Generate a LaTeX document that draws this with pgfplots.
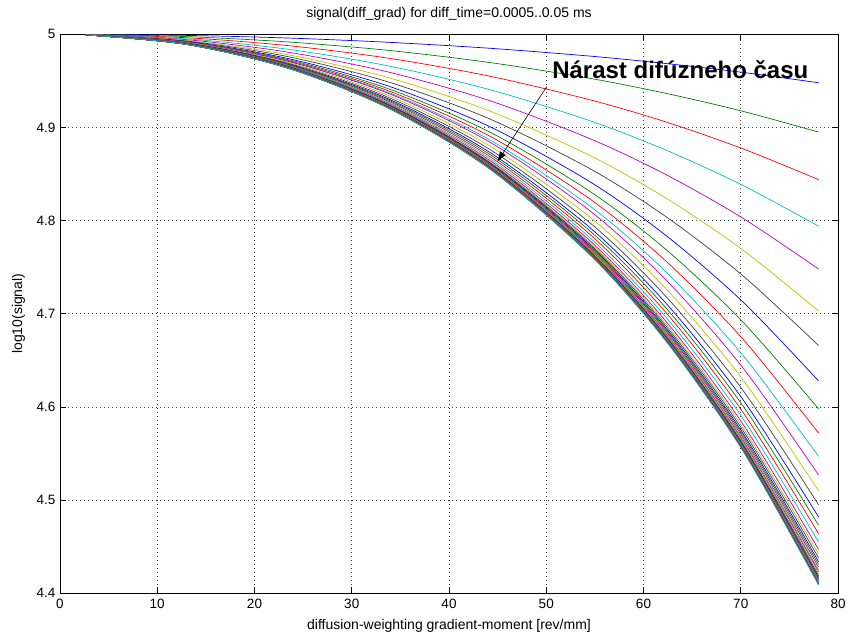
\documentclass[border=0pt]{standalone}
\usepackage{fontspec}
\setmainfont{Liberation Sans}
\usepackage{pgfplots}
\pgfplotsset{compat=1.18}
\usetikzlibrary{arrows.meta}
\definecolor{mb}{rgb}{0,0,1}
\definecolor{mg}{rgb}{0,0.5,0}
\definecolor{mr}{rgb}{1,0,0}
\definecolor{mc}{rgb}{0,0.75,0.75}
\definecolor{mm}{rgb}{0.75,0,0.75}
\definecolor{my}{rgb}{0.75,0.75,0}
\definecolor{mk}{rgb}{0.25,0.25,0.25}
\pgfplotscreateplotcyclelist{matlab}{color=mb\\color=mg\\color=mr\\color=mc\\color=mm\\color=my\\color=mk\\}
\begin{document}
\begin{tikzpicture}
\begin{axis}[
  scale only axis,
  width=778pt, height=559pt,
  xmin=0, xmax=80, ymin=4.4, ymax=5,
  xtick={0,10,...,80},
  xticklabels={0,10,20,30,40,50,60,70,80},
  ytick={4.4,4.5,4.6,4.7,4.8,4.9,5},
  yticklabels={4.4,4.5,4.6,4.7,4.8,4.9,5},
  tick align=inside,
  major tick length=6pt,
  tick style={black, line width=0.7pt},
  axis line style={black, line width=0.8pt},
  grid=major,
  major grid style={black!75, line width=0.6pt, dash pattern=on 1pt off 3pt},
  /pgf/number format/assume math mode=true,
  ticklabel style={font=\fontsize{13.5}{15}\selectfont},
  xticklabel style={yshift=-2pt},
  yticklabel style={xshift=-1pt},
  title={signal(diff\_grad) for diff\_time=0.0005..0.05 ms},
  title style={at={(axis description cs:0.5,1.0197)}, anchor=base, inner sep=0pt, font=\fontsize{14}{16}\selectfont},
  xlabel={diffusion-weighting gradient-moment [rev/mm]},
  xlabel style={at={(axis description cs:0.5,-0.0644)}, anchor=base, inner sep=0pt, font=\fontsize{14}{16}\selectfont},
  ylabel={log10(signal)},
  ylabel style={at={(axis description cs:-0.0488,0.5)}, anchor=base, inner sep=0pt, font=\fontsize{14}{16}\selectfont},
  cycle list name=matlab,
  every axis plot post/.append style={mark=none, smooth, line width=0.7pt},
]
\coordinate (ll) at (rel axis cs:0,0);
\coordinate (ur) at (rel axis cs:1,1);
\addplot coordinates {(2.6,4.9999) (13,4.9988) (23.4,4.9960) (33.8,4.9914) (44.2,4.9850) (54.6,4.9765) (62.4,4.9685) (70.2,4.9591) (78,4.948)};
\addplot coordinates {(2.6,4.9999) (13,4.9975) (23.4,4.9918) (33.8,4.9827) (44.2,4.9697) (54.6,4.9525) (62.4,4.9364) (70.2,4.9174) (78,4.895)};
\addplot coordinates {(2.6,4.9998) (13,4.9963) (23.4,4.9879) (33.8,4.9743) (44.2,4.9550) (54.6,4.9294) (62.4,4.9056) (70.2,4.8772) (78,4.844)};
\addplot coordinates {(2.6,4.9998) (13,4.9951) (23.4,4.9840) (33.8,4.9660) (44.2,4.9406) (54.6,4.9068) (62.4,4.8753) (70.2,4.8379) (78,4.794)};
\addplot coordinates {(2.6,4.9997) (13,4.9942) (23.4,4.9809) (33.8,4.9594) (44.2,4.9287) (54.6,4.8875) (62.4,4.8489) (70.2,4.8027) (78,4.748)};
\addplot coordinates {(2.6,4.9997) (13,4.9934) (23.4,4.9781) (33.8,4.9533) (44.2,4.9176) (54.6,4.8693) (62.4,4.8236) (70.2,4.7686) (78,4.703)};
\addplot coordinates {(2.6,4.9996) (13,4.9928) (23.4,4.9761) (33.8,4.9487) (44.2,4.9091) (54.6,4.8551) (62.4,4.8036) (70.2,4.7410) (78,4.666)};
\addplot coordinates {(2.6,4.9996) (13,4.9922) (23.4,4.9741) (33.8,4.9443) (44.2,4.9008) (54.6,4.8410) (62.4,4.7833) (70.2,4.7130) (78,4.628)};
\addplot coordinates {(2.6,4.9996) (13,4.9918) (23.4,4.9729) (33.8,4.9414) (44.2,4.8950) (54.6,4.8306) (62.4,4.7682) (70.2,4.6914) (78,4.598)};
\addplot coordinates {(2.6,4.9995) (13,4.9916) (23.4,4.9720) (33.8,4.9392) (44.2,4.8906) (54.6,4.8224) (62.4,4.7557) (70.2,4.6731) (78,4.572)};
\addplot coordinates {(2.6,4.9995) (13,4.9914) (23.4,4.9713) (33.8,4.9374) (44.2,4.8866) (54.6,4.8148) (62.4,4.7440) (70.2,4.6557) (78,4.547)};
\addplot coordinates {(2.6,4.9995) (13,4.9913) (23.4,4.9710) (33.8,4.9364) (44.2,4.8842) (54.6,4.8096) (62.4,4.7354) (70.2,4.6423) (78,4.527)};
\addplot coordinates {(2.6,4.9995) (13,4.9910) (23.4,4.9699) (33.8,4.9341) (44.2,4.8800) (54.6,4.8028) (62.4,4.7259) (70.2,4.6295) (78,4.510)};
\addplot coordinates {(2.6,4.9995) (13,4.9907) (23.4,4.9690) (33.8,4.9321) (44.2,4.8764) (54.6,4.7967) (62.4,4.7175) (70.2,4.6182) (78,4.495)};
\addplot coordinates {(2.6,4.9994) (13,4.9905) (23.4,4.9682) (33.8,4.9304) (44.2,4.8732) (54.6,4.7915) (62.4,4.7103) (70.2,4.6083) (78,4.482)};
\addplot coordinates {(2.6,4.9994) (13,4.9903) (23.4,4.9677) (33.8,4.9292) (44.2,4.8710) (54.6,4.7879) (62.4,4.7052) (70.2,4.6015) (78,4.473)};
\addplot coordinates {(2.6,4.9994) (13,4.9902) (23.4,4.9671) (33.8,4.9280) (44.2,4.8688) (54.6,4.7842) (62.4,4.7002) (70.2,4.5947) (78,4.464)};
\addplot coordinates {(2.6,4.9994) (13,4.9900) (23.4,4.9666) (33.8,4.9268) (44.2,4.8666) (54.6,4.7806) (62.4,4.6951) (70.2,4.5879) (78,4.455)};
\addplot coordinates {(2.6,4.9994) (13,4.9899) (23.4,4.9661) (33.8,4.9257) (44.2,4.8646) (54.6,4.7774) (62.4,4.6907) (70.2,4.5819) (78,4.447)};
\addplot coordinates {(2.6,4.9994) (13,4.9898) (23.4,4.9658) (33.8,4.9250) (44.2,4.8634) (54.6,4.7754) (62.4,4.6879) (70.2,4.5781) (78,4.442)};
\addplot coordinates {(2.6,4.9994) (13,4.9897) (23.4,4.9656) (33.8,4.9245) (44.2,4.8624) (54.6,4.7738) (62.4,4.6857) (70.2,4.5751) (78,4.438)};
\addplot coordinates {(2.6,4.9994) (13,4.9897) (23.4,4.9653) (33.8,4.9239) (44.2,4.8614) (54.6,4.7722) (62.4,4.6834) (70.2,4.5721) (78,4.434)};
\addplot coordinates {(2.6,4.9994) (13,4.9896) (23.4,4.9651) (33.8,4.9235) (44.2,4.8607) (54.6,4.7710) (62.4,4.6817) (70.2,4.5698) (78,4.431)};
\addplot coordinates {(2.6,4.9994) (13,4.9895) (23.4,4.9649) (33.8,4.9231) (44.2,4.8600) (54.6,4.7698) (62.4,4.6801) (70.2,4.5675) (78,4.428)};
\addplot coordinates {(2.6,4.9994) (13,4.9895) (23.4,4.9648) (33.8,4.9227) (44.2,4.8592) (54.6,4.7686) (62.4,4.6784) (70.2,4.5652) (78,4.425)};
\addplot coordinates {(2.6,4.9994) (13,4.9894) (23.4,4.9646) (33.8,4.9224) (44.2,4.8587) (54.6,4.7678) (62.4,4.6773) (70.2,4.5637) (78,4.423)};
\addplot coordinates {(2.6,4.9994) (13,4.9894) (23.4,4.9645) (33.8,4.9222) (44.2,4.8583) (54.6,4.7670) (62.4,4.6762) (70.2,4.5622) (78,4.421)};
\addplot coordinates {(2.6,4.9994) (13,4.9894) (23.4,4.9644) (33.8,4.9219) (44.2,4.8578) (54.6,4.7662) (62.4,4.6750) (70.2,4.5607) (78,4.419)};
\addplot coordinates {(2.6,4.9994) (13,4.9893) (23.4,4.9642) (33.8,4.9216) (44.2,4.8573) (54.6,4.7654) (62.4,4.6739) (70.2,4.5592) (78,4.417)};
\addplot coordinates {(2.6,4.9994) (13,4.9893) (23.4,4.9642) (33.8,4.9215) (44.2,4.8570) (54.6,4.7649) (62.4,4.6733) (70.2,4.5584) (78,4.416)};
\addplot coordinates {(2.6,4.9994) (13,4.9893) (23.4,4.9641) (33.8,4.9214) (44.2,4.8568) (54.6,4.7645) (62.4,4.6728) (70.2,4.5577) (78,4.415)};
\addplot coordinates {(2.6,4.9994) (13,4.9893) (23.4,4.9641) (33.8,4.9212) (44.2,4.8565) (54.6,4.7641) (62.4,4.6722) (70.2,4.5569) (78,4.414)};
\addplot coordinates {(2.6,4.9994) (13,4.9893) (23.4,4.9640) (33.8,4.9211) (44.2,4.8563) (54.6,4.7637) (62.4,4.6717) (70.2,4.5562) (78,4.413)};
\addplot coordinates {(2.6,4.9994) (13,4.9892) (23.4,4.9640) (33.8,4.9210) (44.2,4.8561) (54.6,4.7633) (62.4,4.6711) (70.2,4.5554) (78,4.412)};
\addplot coordinates {(2.6,4.9994) (13,4.9892) (23.4,4.9639) (33.8,4.9208) (44.2,4.8558) (54.6,4.7629) (62.4,4.6706) (70.2,4.5547) (78,4.411)};
\addplot coordinates {(2.6,4.9994) (13,4.9892) (23.4,4.9639) (33.8,4.9208) (44.2,4.8557) (54.6,4.7627) (62.4,4.6703) (70.2,4.5543) (78,4.4105)};
\addplot coordinates {(2.6,4.9994) (13,4.9892) (23.4,4.9638) (33.8,4.9207) (44.2,4.8556) (54.6,4.7625) (62.4,4.6700) (70.2,4.5539) (78,4.410)};
\addplot coordinates {(2.6,4.9994) (13,4.9892) (23.4,4.9638) (33.8,4.9206) (44.2,4.8555) (54.6,4.7623) (62.4,4.6697) (70.2,4.5535) (78,4.4095)};
\addplot coordinates {(2.6,4.9994) (13,4.9892) (23.4,4.9637) (33.8,4.9206) (44.2,4.8553) (54.6,4.7621) (62.4,4.6694) (70.2,4.5532) (78,4.409)};
\draw[black, line width=0.6pt, -{Latex[length=10pt,width=7pt]}] (axis cs:50.05,4.9438) -- (axis cs:44.97,4.8634);
\node[anchor=base west, inner sep=0pt, font=\fontsize{24}{27}\selectfont\bfseries] at (axis cs:50.6,4.9528) {Nárast difúzneho času};
\end{axis}
\pgfresetboundingbox
\path[use as bounding box] ([shift={(-60pt,-46.3pt)}]ll) rectangle ([shift={(11pt,34.3pt)}]ur);
\end{tikzpicture}
\end{document}
